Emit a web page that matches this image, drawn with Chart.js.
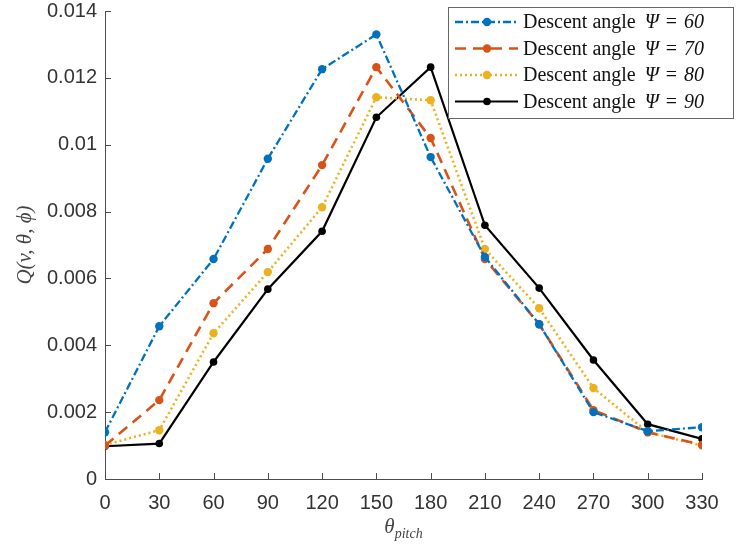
<!DOCTYPE html>
<html>
<head>
<meta charset="utf-8">
<script src="https://cdn.jsdelivr.net/npm/chart.js@4"></script>
<style>
  html, body { margin: 0; padding: 0; background: #fff; }
  #wrap { width: 737px; height: 547px; }
</style>
</head>
<body>
<div id="wrap"><canvas id="qChart" width="737" height="547"></canvas></div>
<script>
// pitch angles (deg)
const pitch = [0, 30, 60, 90, 120, 150, 180, 210, 240, 270, 300, 330];
const descentAngles = [60, 70, 80, 90];

// Q(v, theta, phi) for each descent angle
const q60 = [0.0014, 0.00457, 0.00658, 0.00958, 0.01226, 0.0133, 0.00963, 0.00664, 0.00463, 0.002, 0.00143, 0.00155];
const q70 = [0.001, 0.00236, 0.00526, 0.00688, 0.00939, 0.01232, 0.0102, 0.00658, 0.00463, 0.00206, 0.0014, 0.00102];
const q80 = [0.00102, 0.00146, 0.00436, 0.00619, 0.00813, 0.01142, 0.01133, 0.00688, 0.00511, 0.00272, 0.0014, 0.001];
const q90 = [0.00098, 0.00106, 0.0035, 0.00568, 0.00741, 0.01082, 0.01232, 0.00759, 0.00571, 0.00356, 0.00164, 0.0012];

const yTicks = [0, 0.002, 0.004, 0.006, 0.008, 0.01, 0.012, 0.014];

const axisColor = "#4d4d4d";
const textColor = "#333333";
const serif = "'Liberation Serif', 'DejaVu Serif', serif";

const styles = [
  { color: "#0072BD", dash: [8, 3, 2, 3], width: 2.3, radius: 4.2 },
  { color: "#D95319", dash: [11, 7], width: 2.6, radius: 4.2 },
  { color: "#EDB120", dash: [2, 3], width: 2.6, radius: 4.2 },
  { color: "#000000", dash: [], width: 2.2, radius: 3.8 },
];
const series = [q60, q70, q80, q90];

const toPoints = (vals) => vals.map((v, i) => ({ x: pitch[i], y: v }));

const datasets = series.map((vals, i) => ({
  label: "Descent angle \u03A8 = " + descentAngles[i],
  data: toPoints(vals),
  borderColor: styles[i].color,
  backgroundColor: styles[i].color,
  borderWidth: styles[i].width,
  borderDash: styles[i].dash,
  pointRadius: styles[i].radius,
  pointBorderWidth: 0,
  pointBackgroundColor: styles[i].color,
  tension: 0,
  fill: false,
}));

// inward ticks, axis titles with math look, and the legend box
const decorations = {
  id: "decorations",
  afterDraw(chart) {
    const ctx = chart.ctx;
    const xs = chart.scales.x;
    const ys = chart.scales.y;
    const area = chart.chartArea;
    ctx.save();
    ctx.strokeStyle = axisColor;
    ctx.lineWidth = 1;
    ctx.setLineDash([]);
    ctx.beginPath();
    pitch.forEach((p) => {
      const px = Math.round(xs.getPixelForValue(p)) + 0.5;
      ctx.moveTo(px, area.bottom);
      ctx.lineTo(px, area.bottom - 6);
    });
    yTicks.forEach((t) => {
      const py = Math.round(ys.getPixelForValue(t)) + 0.5;
      ctx.moveTo(area.left, py);
      ctx.lineTo(area.left + 6, py);
    });
    ctx.stroke();

    // x title: theta_pitch
    ctx.fillStyle = "#444";
    ctx.textBaseline = "alphabetic";
    ctx.font = "italic 21px " + serif;
    const cx = (area.left + area.right) / 2;
    const thW = ctx.measureText("\u03B8").width;
    ctx.font = "italic 14px " + serif;
    const subW = ctx.measureText("pitch").width;
    let sx = cx - (thW + subW) / 2;
    ctx.font = "italic 21px " + serif;
    ctx.textAlign = "left";
    ctx.fillText("\u03B8", sx, 533);
    ctx.font = "italic 14px " + serif;
    ctx.fillText("pitch", sx + thW, 538);

    // y title
    ctx.save();
    ctx.translate(31, (area.top + area.bottom) / 2);
    ctx.rotate(-Math.PI / 2);
    ctx.font = "italic 21px " + serif;
    ctx.textAlign = "center";
    ctx.fillText("Q(v, \u03B8, \u03D5)", 0, 0);
    ctx.restore();

    // legend
    const lx = 448, ly = 7, lw = 285, lh = 111;
    ctx.fillStyle = "#fff";
    ctx.fillRect(lx, ly, lw, lh);
    ctx.strokeStyle = "#666";
    ctx.lineWidth = 1;
    ctx.strokeRect(lx + 0.5, ly + 0.5, lw, lh);
    chart.data.datasets.forEach((ds, i) => {
      const rowY = ly + 15 + i * 26.5;
      const st = styles[i];
      ctx.strokeStyle = st.color;
      ctx.lineWidth = st.width;
      ctx.setLineDash(st.dash);
      ctx.beginPath();
      ctx.moveTo(lx + 7, rowY);
      ctx.lineTo(lx + 70, rowY);
      ctx.stroke();
      ctx.setLineDash([]);
      ctx.fillStyle = st.color;
      ctx.beginPath();
      ctx.arc(lx + 39, rowY, st.radius, 0, Math.PI * 2);
      ctx.fill();

      ctx.fillStyle = "#111";
      ctx.textAlign = "left";
      ctx.textBaseline = "middle";
      let tx = lx + 75;
      ctx.font = "20px " + serif;
      ctx.fillText("Descent angle", tx, rowY + 1);
      tx += ctx.measureText("Descent angle").width + 9;
      ctx.font = "italic 20px " + serif;
      ctx.fillText("\u03A8", tx, rowY + 1);
      tx += ctx.measureText("\u03A8").width + 7;
      ctx.font = "20px " + serif;
      ctx.fillText("=", tx, rowY + 1);
      tx += ctx.measureText("=").width + 7;
      ctx.font = "italic 20px " + serif;
      ctx.fillText(String(descentAngles[i]), tx, rowY + 1);
    });
    ctx.restore();
  },
};

const qChart = new Chart(document.getElementById("qChart").getContext("2d"), {
  type: "line",
  data: { datasets: datasets },
  options: {
    responsive: false,
    animation: false,
    layout: { padding: { top: 11, right: 35, left: 0, bottom: 0 } },
    scales: {
      x: {
        type: "linear",
        min: 0,
        max: 330,
        afterBuildTicks: (scale) => {
          scale.ticks = pitch.map((v) => ({ value: v }));
        },
        afterFit: (scale) => {
          scale.height = 68;
          scale.paddingLeft = 0;
          scale.paddingRight = 0;
        },
        grid: { display: false, drawTicks: false },
        border: { display: true, color: axisColor, width: 1 },
        ticks: {
          color: textColor,
          font: { family: "'Liberation Sans', Arial, sans-serif", size: 20 },
          padding: 12,
          maxRotation: 0,
        },
      },
      y: {
        type: "linear",
        min: 0,
        max: 0.014,
        afterBuildTicks: (scale) => {
          scale.ticks = yTicks.map((v) => ({ value: v }));
        },
        afterFit: (scale) => {
          scale.width = 105;
          scale.paddingTop = 0;
          scale.paddingBottom = 0;
        },
        grid: { display: false, drawTicks: false },
        border: { display: true, color: axisColor, width: 1 },
        ticks: {
          color: textColor,
          font: { family: "'Liberation Sans', Arial, sans-serif", size: 20 },
          padding: 8,
          callback: (v) => String(Number(v.toFixed(3))),
        },
      },
    },
    plugins: {
      legend: { display: false },
      tooltip: { enabled: false },
    },
  },
  plugins: [decorations],
});
</script>
</body>
</html>
